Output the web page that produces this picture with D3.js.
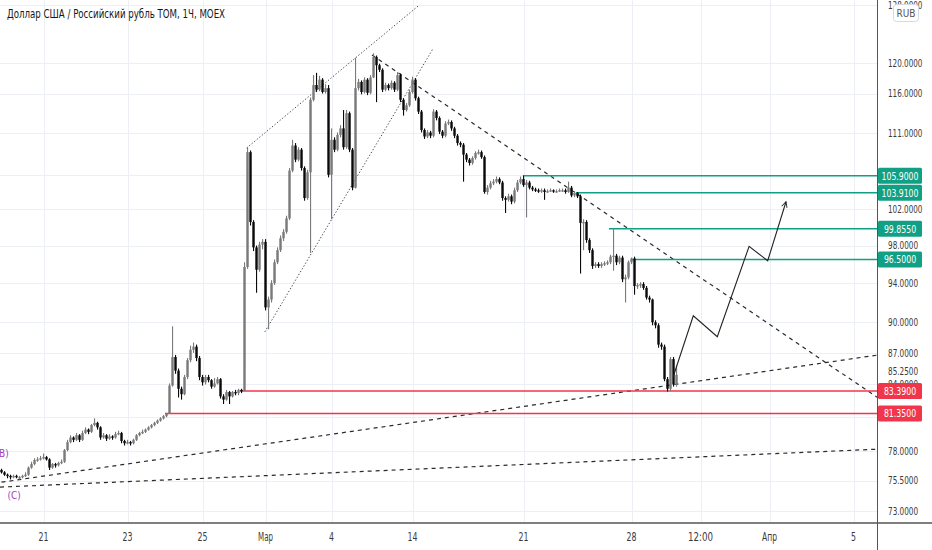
<!DOCTYPE html>
<html>
<head>
<meta charset="utf-8">
<script src="https://cdn.jsdelivr.net/npm/d3@7"></script>
<style>
  body { margin: 0; background: #fff; }
  svg { display: block; }
  text { font-family: "Liberation Sans Narrow", "DejaVu Sans Condensed", sans-serif; }
</style>
</head>
<body>
<div id="chart"></div>
<script>
const width = 932;
const height = 550;
const plotRight = 877;
const plotBottom = 523;

const TITLE = "Доллар США / Российский рубль TOM, 1Ч, MOEX";

// hourly bars, open = previous close
const firstOpen = 76.4;
const closes = [
  76.2,76.0,75.9,75.8,75.9,75.8,75.8,75.9,76.0,76.6, 76.9,77.25,77.3,77.4,77.5,77.3,76.6,76.9,76.8,77.0,
  77.1,78.1,78.8,79.2,79.0,79.4,79.0,79.6,79.9,79.7, 80.3,80.5,80.1,79.2,79.4,79.1,79.3,79.2,79.5,79.6,
  78.9,78.7,78.8,78.7,79.0,79.4,79.6,79.7,79.9,80.1, 80.3,80.5,80.7,80.9,81.1,81.3,
  83.9,86.6,85.3,83.6,83.1,84.7,86.3,87.3,87.6,86.5, 84.7,84.2,84.7,84.4,83.8,84.1,84.5,82.9,82.6,83.3,
  82.9,83.3,83.2,83.5,83.4,
  95.7,108.7,100.6,97.8,95.4,98.1,98.4,91.5,92.3,94.0, 96.2,97.5,98.8,99.5,101.0,106.5,109.5,107.8,109.0,106.8,
  103.3,106.3,115.2,117.1,116.5,117.8,116.2,116.7,106.0,110.2, 109.0,110.8,111.6,109.3,113.5,109.0,104.5,116.7,117.5,116.2,
  117.8,116.1,118.1,120.8,119.7,119.1,116.5,117.1,116.7,117.4, 116.5,118.4,115.2,113.9,114.5,116.2,117.8,115.4,113.7,111.4,
  110.6,111.1,110.7,113.7,112.9,111.2,110.7,112.2,112.4,111.6, 110.7,109.8,109.6,
  108.4,107.8,107.4,108.0,108.6,108.7,108.1,104.0,104.5,105.0, 105.2,105.5,105.1,103.3,103.1,103.5,102.9,104.2,105.1,105.5,
  104.8,105.1,104.5,104.3,104.2,104.1,104.2,104.0,104.1,104.2, 104.1,104.1,104.2,104.2,104.0,104.5,103.6,103.9,103.5,
  100.5,100.6,98.6,97.5,95.8,96.0,95.8,96.0,96.1,96.2, 96.8,96.9,96.2,96.7,94.4,94.6,96.2,96.6,93.7,93.8,
  93.9,93.5,92.5,92.3,90.0,89.7,87.8,87.6,84.5,83.6, 86.4,84.0,84.9
];
const highs = [
  76.5,76.3,76.1,76.0,76.0,76.0,75.9,76.0,76.2,76.7, 77.1,77.4,77.5,77.6,77.8,77.6,77.4,77.0,77.0,77.1,
  77.3,78.2,79.0,79.4,79.3,79.6,79.5,79.8,80.1,80.0, 80.4,80.9,80.6,80.2,79.6,79.5,79.5,79.4,79.7,79.8,
  79.7,79.0,79.0,78.9,79.1,79.5,79.7,79.9,80.0,80.2, 80.4,80.6,80.8,81.0,81.2,81.35,
  84.1,89.6,86.8,85.5,83.8,84.9,86.5,87.7,88.0,87.8, 86.7,84.9,84.9,84.9,84.5,84.6,84.7,84.6,83.1,83.5,
  83.4,83.4,83.5,83.6,83.6,
  96.2,109.3,108.9,100.8,98.0,98.4,98.7,98.7,92.6,94.3, 96.5,97.8,99.1,99.8,101.3,106.8,110.2,109.8,109.3,109.2,
  107.0,106.6,115.5,118.4,118.7,118.3,118.0,117.2,117.1,111.6, 110.5,111.1,112.0,113.9,113.9,113.7,109.2,120.7,117.9,117.7,
  118.1,118.0,118.4,121.3,121.0,119.9,119.3,117.4,117.3,117.7, 117.6,118.8,118.6,115.4,114.8,116.5,118.2,118.0,115.6,113.9,
  111.6,111.4,111.3,114.0,113.9,113.1,111.4,112.5,112.7,112.6, 111.8,110.9,110.0,
  109.8,108.6,108.0,108.2,108.8,109.0,108.9,108.3,104.8,105.3, 105.5,105.8,105.7,105.3,103.5,103.8,103.7,104.5,105.4,105.8,
  105.9,105.4,105.3,104.7,104.5,104.4,104.4,104.4,104.3,104.4, 104.3,104.3,104.4,104.4,104.4,105.2,104.7,104.1,104.0,
  103.7,100.9,100.8,98.8,97.7,96.2,96.2,96.2,96.3,96.4, 97.0,99.86,97.1,96.9,96.9,94.9,96.4,96.7,96.8,94.0,
  94.1,94.1,93.7,92.7,92.4,90.2,89.9,88.0,87.8,84.7, 86.6,86.6,85.8
];
const lows = [
  76.1,75.9,75.7,75.6,75.7,75.7,75.6,75.7,75.8,75.9, 76.5,76.8,77.1,77.2,77.3,77.2,76.4,76.5,76.6,76.7,
  76.9,77.0,78.0,78.7,78.8,78.9,78.8,78.9,79.5,79.5, 79.6,80.2,79.9,79.0,79.1,78.9,79.0,79.0,79.1,79.4,
  78.7,78.5,78.6,78.5,78.6,78.9,79.3,79.5,79.6,79.8, 80.0,80.2,80.4,80.6,80.8,81.0,
  81.3,83.8,85.0,82.8,82.6,83.0,84.5,86.1,87.0,86.2, 84.4,83.9,84.0,84.2,83.6,83.7,84.0,82.7,82.2,82.5,
  82.2,82.8,83.0,83.0,83.2,
  85.4,95.5,100.2,97.4,93.0,95.2,97.6,91.2,89.3,92.0, 93.8,96.0,97.3,98.5,99.3,100.8,106.3,107.5,107.6,106.5,
  103.0,103.1,97.2,115.0,116.2,116.3,116.0,116.0,105.7,100.9, 108.7,108.8,110.5,109.0,109.1,108.7,104.2,104.4,116.4,115.9,
  116.0,115.8,115.9,118.0,114.9,118.8,116.2,116.3,116.4,116.5, 116.2,116.3,114.9,113.2,113.7,114.3,116.0,115.1,113.4,111.1,
  110.3,110.4,110.4,110.5,112.6,110.9,110.4,110.5,112.0,111.3, 110.4,109.5,109.3,
  105.2,107.5,107.1,107.2,107.8,108.4,107.9,103.8,103.7,104.3, 104.8,105.0,104.9,103.0,101.6,102.9,102.6,102.7,104.0,104.9,
  104.6,101.1,104.3,104.1,104.0,103.9,103.9,103.1,103.9,104.0, 103.9,103.9,104.0,104.0,103.8,103.9,103.4,103.4,103.3,
  95.0,97.5,98.3,97.2,95.5,95.6,95.6,95.6,95.8,95.9, 96.0,95.3,95.9,96.0,94.1,92.0,94.4,96.0,92.8,93.4,
  93.5,93.3,92.3,92.0,89.7,89.4,87.5,87.3,84.3,83.35, 83.4,83.8,83.8
];

// time axis: label and bar index
const timeLabels = ["21", "23", "25", "Мар", "4", "14", "21", "28", "12:00", "Апр", "5"];
const timeBars = [14, 42, 67, 88, 110, 137, 174, 210, 233, 256, 284];

// price axis
const priceLabels = [128, 120, 116, 111, 102, 98, 94, 90, 87, 85.25, 84, 78, 75.5, 73];
const priceGrid = [128, 120, 116, 111, 106, 102, 98, 94, 90, 87, 84, 81, 78, 75.5, 73];

// horizontal levels [price, start bar]
const greenLevels = [[105.9, 173.8], [103.91, 191.5], [99.855, 202.5], [96.5, 210.2]];
const redLevels = [[83.39, 79.5], [81.35, 54.5]];

// drawings, [bar, price] pairs
const downTrend = [[123.5, 121.07], [291.8, 82.83]];
const upTrendA = [[0, 75.37], [291.8, 86.78]];
const upTrendB = [[-0.5, 74.96], [291.8, 78.18]];
const channelTop = [[81.7, 109.2], [138.8, 127.8]];
const channelBottom = [[87.8, 89.06], [143.9, 121.97]];
const forecast = [[223.9, 84.72], [230.6, 90.65], [238.6, 88.57], [249.2, 97.91], [255.4, 96.36], [261.5, 102.88]];

const waveLabels = [["(B)", 0.2, 77.84], ["(C)", 4.2, 74.29]];

const GREEN = "#12a084";
const RED = "#f0364a";

const x = d3.scaleLinear().domain([-0.5, 292]).range([0, 877.5]);
const y = d3.scaleLog().domain([73, 120]).range([511, 63]);
const fmt = d3.format(".4f");

const svg = d3.select("#chart").append("svg")
    .attr("width", width)
    .attr("height", height);

const defs = svg.append("defs");
defs.append("clipPath").attr("id", "plot")
    .append("rect").attr("width", plotRight).attr("height", plotBottom);

defs.append("marker")
    .attr("id", "arrow")
    .attr("viewBox", "0 -5 10 10")
    .attr("refX", 9).attr("refY", 0)
    .attr("markerWidth", 7).attr("markerHeight", 7)
    .attr("markerUnits", "userSpaceOnUse")
    .attr("orient", "auto")
    .append("path")
    .attr("d", "M1,-4L9,0L1,4")
    .attr("fill", "none")
    .attr("stroke", "#222")
    .attr("stroke-width", 1.3);

const plot = svg.append("g").attr("clip-path", "url(#plot)");

// grid
plot.append("g").selectAll("line").data(priceGrid).join("line")
    .attr("x1", 0).attr("x2", plotRight)
    .attr("y1", d => Math.round(y(d)) + 0.5).attr("y2", d => Math.round(y(d)) + 0.5)
    .attr("stroke", "#eceff4");
plot.append("g").selectAll("line").data(timeBars).join("line")
    .attr("x1", d => Math.round(x(d)) + 0.5).attr("x2", d => Math.round(x(d)) + 0.5)
    .attr("y1", 0).attr("y2", plotBottom)
    .attr("stroke", "#eceff4");

const lineGen = d3.line().x(d => x(d[0])).y(d => y(d[1]));

// trend lines
[downTrend, upTrendA, upTrendB].forEach(l => {
    plot.append("path").attr("d", lineGen(l))
        .attr("fill", "none").attr("stroke", "#2a2a2a")
        .attr("stroke-width", 1.2).attr("stroke-dasharray", "4,4");
});
[channelTop, channelBottom].forEach(l => {
    plot.append("path").attr("d", lineGen(l))
        .attr("fill", "none").attr("stroke", "#444")
        .attr("stroke-width", 1).attr("stroke-dasharray", "1.3,2");
});

// levels
const levels = greenLevels.map(d => [d[0], d[1], GREEN]).concat(redLevels.map(d => [d[0], d[1], RED]));
plot.append("g").selectAll("line").data(levels).join("line")
    .attr("x1", d => x(d[1])).attr("x2", plotRight)
    .attr("y1", d => y(d[0])).attr("y2", d => y(d[0]))
    .attr("stroke", d => d[2]).attr("stroke-width", 1.5);

// candles
const bars = closes.map((c, i) => ({
    i: i,
    o: i === 0 ? firstOpen : closes[i - 1],
    c: c,
    h: highs[i],
    l: lows[i]
}));

const candle = plot.append("g").selectAll("g").data(bars).join("g")
    .attr("fill", d => d.c >= d.o ? "#7a7a7a" : "#0a0a0a");

candle.append("rect")
    .attr("x", d => x(d.i) - 0.5)
    .attr("width", 1.1)
    .attr("y", d => y(d.h))
    .attr("height", d => Math.max(1, y(d.l) - y(d.h)));

candle.append("rect")
    .attr("x", d => x(d.i) - 1.2)
    .attr("width", 2.4)
    .attr("y", d => y(Math.max(d.o, d.c)))
    .attr("height", d => Math.max(1.4, Math.abs(y(d.o) - y(d.c))));

// forecast path
plot.append("path").attr("d", lineGen(forecast))
    .attr("fill", "none").attr("stroke", "#222").attr("stroke-width", 1.1)
    .attr("marker-end", "url(#arrow)");

// wave labels
plot.append("g").selectAll("text").data(waveLabels).join("text")
    .attr("x", d => x(d[1])).attr("y", d => y(d[2]))
    .attr("dy", "0.35em")
    .attr("text-anchor", "middle")
    .attr("fill", "#9c3fc0")
    .attr("font-size", 10)
    .text(d => d[0]);

// title
svg.append("text")
    .attr("x", 7).attr("y", 18)
    .attr("fill", "#131722")
    .attr("font-size", 12)
    .attr("textLength", 218)
    .attr("lengthAdjust", "spacingAndGlyphs")
    .text(TITLE);

// axes lines
svg.append("line").attr("x1", 0).attr("x2", width)
    .attr("y1", plotBottom).attr("y2", plotBottom)
    .attr("stroke", "#555").attr("stroke-width", 1.6);
svg.append("line").attr("x1", plotRight + 0.5).attr("x2", plotRight + 0.5)
    .attr("y1", 0).attr("y2", height)
    .attr("stroke", "#555").attr("stroke-width", 1);

// price labels
svg.append("g").selectAll("text").data(priceLabels).join("text")
    .attr("x", 888).attr("y", d => y(d))
    .attr("dy", "0.35em")
    .attr("fill", "#3a3a3a")
    .attr("font-size", 10.5)
    .attr("textLength", d => fmt(d).length * 4.3)
    .attr("lengthAdjust", "spacingAndGlyphs")
    .text(d => fmt(d));

// time labels
svg.append("g").selectAll("text").data(timeLabels).join("text")
    .attr("x", (d, i) => x(timeBars[i])).attr("y", 537)
    .attr("dy", "0.35em")
    .attr("text-anchor", "middle")
    .attr("fill", "#3a3a3a")
    .attr("font-size", 11.5)
    .attr("textLength", d => d.length * 5)
    .attr("lengthAdjust", "spacingAndGlyphs")
    .text(d => d);

// level tags
const tag = svg.append("g").selectAll("g").data(levels).join("g");
tag.append("rect")
    .attr("x", 878).attr("width", 44)
    .attr("y", d => y(d[0]) - 8).attr("height", 16)
    .attr("rx", 1.5)
    .attr("fill", d => d[2]);
tag.append("text")
    .attr("x", 900).attr("y", d => y(d[0]))
    .attr("dy", "0.36em")
    .attr("text-anchor", "middle")
    .attr("fill", "#fff")
    .attr("font-size", 11)
    .attr("textLength", d => fmt(d[0]).length * 4.6)
    .attr("lengthAdjust", "spacingAndGlyphs")
    .text(d => fmt(d[0]));

// currency badge
svg.append("rect")
    .attr("x", 893.5).attr("y", 4.5).attr("width", 25).attr("height", 17)
    .attr("rx", 3).attr("fill", "#fff").attr("stroke", "#d6d9df");
svg.append("text")
    .attr("x", 906).attr("y", 13.5).attr("dy", "0.35em")
    .attr("text-anchor", "middle")
    .attr("fill", "#555")
    .attr("font-size", 10)
    .text("RUB");
</script>
</body>
</html>
